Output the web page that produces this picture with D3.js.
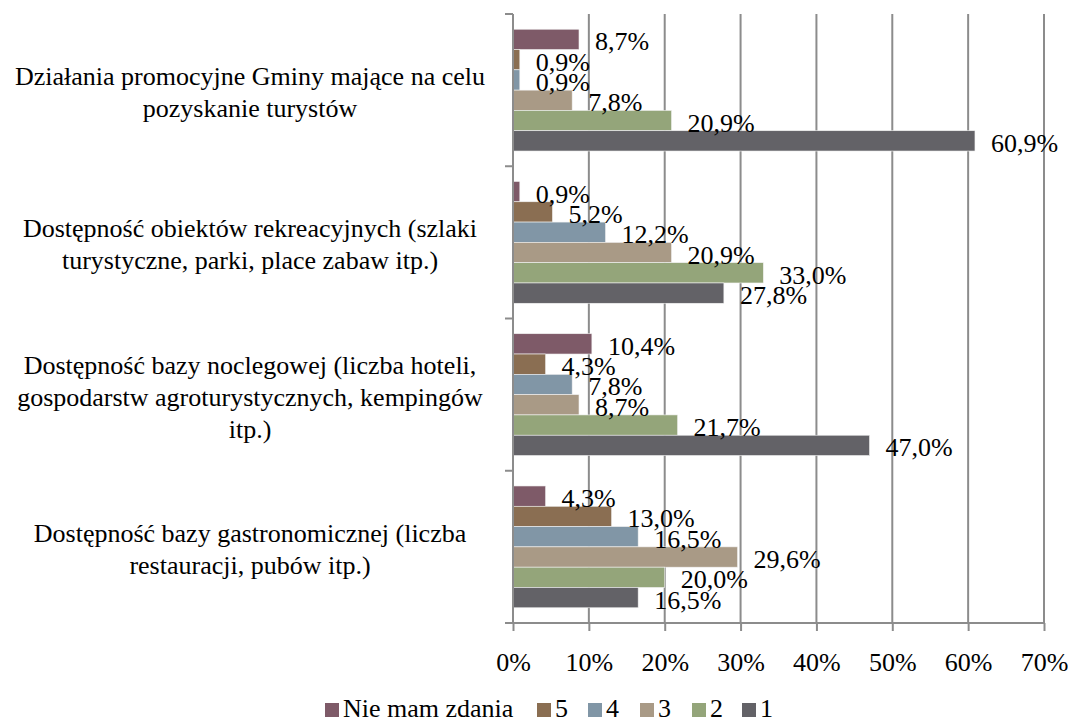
<!DOCTYPE html>
<html lang="pl">
<head>
<meta charset="utf-8">
<title>Ocena</title>
<script src="https://cdn.jsdelivr.net/npm/d3@7"></script>
<style>
  body { margin: 0; background: #fff; }
  svg text { font-family: 'Liberation Serif', 'Times New Roman', Times, serif; fill: #000; }
</style>
</head>
<body>
<script>
// categories (top to bottom), with line breaks as in the picture
var categories = [
  "Działania promocyjne Gminy mające na celu\npozyskanie turystów",
  "Dostępność obiektów rekreacyjnych (szlaki\nturystyczne, parki, place zabaw itp.)",
  "Dostępność bazy noclegowej (liczba hoteli,\ngospodarstw agroturystycznych, kempingów\nitp.)",
  "Dostępność bazy gastronomicznej (liczba\nrestauracji, pubów itp.)"
];
var seriesNames = ["Nie mam zdania", "5", "4", "3", "2", "1"];
var seriesColors = ["#7e5a68", "#8a6e52", "#8196a6", "#a99a86", "#94a57a", "#636267"];

// values per series, one per category
var nieMamZdania = [8.7, 0.9, 10.4, 4.3];
var ocena5 = [0.9, 5.2, 4.3, 13.0];
var ocena4 = [0.9, 12.2, 7.8, 16.5];
var ocena3 = [7.8, 20.9, 8.7, 29.6];
var ocena2 = [20.9, 33.0, 21.7, 20.0];
var ocena1 = [60.9, 27.8, 47.0, 16.5];
var allSeries = [nieMamZdania, ocena5, ocena4, ocena3, ocena2, ocena1];

var xTicks = [0, 10, 20, 30, 40, 50, 60, 70];

var W = 1068, H = 720;
var pLeft = 513, pRight = 1044, pTop = 14, pBottom = 623;
var fs = "26px";
var ff = "'Liberation Serif', 'Times New Roman', Times, serif";

var svg = d3.select("body").append("svg")
    .attr("width", W)
    .attr("height", H)
    .attr("font-family", ff);

var x = d3.scaleLinear().domain([0, 70]).range([pLeft, pRight]);
var y = d3.scaleBand().domain(categories).range([pTop, pBottom]).padding(0);
var yInner = d3.scaleBand().domain(seriesNames)
    .range([0, y.bandwidth()]).paddingInner(0).paddingOuter(0.75);

// gridlines
svg.append("g").selectAll("line")
   .data(xTicks.slice(1))
   .enter().append("line")
   .attr("x1", function(d) { return x(d); })
   .attr("x2", function(d) { return x(d); })
   .attr("y1", pTop)
   .attr("y2", pBottom)
   .attr("stroke", "#8c8c8c")
   .attr("stroke-width", 2);

// bars
var groups = svg.append("g").selectAll("g")
   .data(categories)
   .enter().append("g")
   .attr("transform", function(d) { return "translate(0," + y(d) + ")"; });

groups.each(function(cat, ci) {
  var g = d3.select(this);
  var rows = seriesNames.map(function(s, si) {
    return { name: s, value: allSeries[si][ci], color: seriesColors[si] };
  });
  g.selectAll("rect")
   .data(rows)
   .enter().append("rect")
   .attr("x", x(0))
   .attr("y", function(d) { return yInner(d.name); })
   .attr("width", function(d) { return x(d.value) - x(0); })
   .attr("height", yInner.bandwidth())
   .attr("fill", function(d) { return d.color; })
   .attr("stroke", "#f2f2f2")
   .attr("stroke-width", 0.6);

  g.selectAll("text")
   .data(rows)
   .enter().append("text")
   .attr("x", function(d) { return x(d.value) + 16; })
   .attr("y", function(d) { return yInner(d.name) + yInner.bandwidth() / 2 + 11; })
   .attr("font-size", fs)
   .text(function(d) { return d.value.toFixed(1).replace(".", ",") + "%"; });
});

// axes
var xAxis = d3.axisBottom(x)
    .tickValues(xTicks)
    .tickSize(8)
    .tickPadding(22)
    .tickFormat(function(d) { return d + "%"; });

var gx = svg.append("g")
   .attr("transform", "translate(0," + pBottom + ")")
   .call(xAxis)
   .attr("font-family", ff);
gx.select(".domain").attr("stroke", "#8c8c8c").attr("stroke-width", 2)
   .attr("d", "M" + pLeft + ",0H" + pRight);
gx.selectAll(".tick line").attr("stroke", "#8c8c8c").attr("stroke-width", 2);
gx.selectAll(".tick text")
   .attr("font-size", fs)
   .attr("fill", "#000");

// y axis line + boundary ticks
var gy = svg.append("g");
gy.append("line")
  .attr("x1", pLeft).attr("x2", pLeft)
  .attr("y1", pTop).attr("y2", pBottom)
  .attr("stroke", "#8c8c8c").attr("stroke-width", 2);
gy.selectAll(".bt")
  .data(categories.map(function(c) { return y(c); }).concat([pBottom]))
  .enter().append("line")
  .attr("class", "bt")
  .attr("x1", pLeft - 8).attr("x2", pLeft)
  .attr("y1", function(d) { return d; })
  .attr("y2", function(d) { return d; })
  .attr("stroke", "#8c8c8c").attr("stroke-width", 2);

// category labels
var lineH = 32;
svg.append("g").selectAll("text")
   .data(categories)
   .enter().append("text")
   .attr("text-anchor", "middle")
   .attr("font-size", fs)
   .each(function(d) {
     var lines = d.split("\n");
     var cy = y(d) + y.bandwidth() / 2;
     var t = d3.select(this);
     lines.forEach(function(l, i) {
       t.append("tspan")
        .attr("x", 250)
        .attr("y", cy + (i - (lines.length - 1) / 2) * lineH + 11)
        .text(l);
     });
   });

// legend
var legendX = [325, 537, 588, 640, 692, 742];
var leg = svg.append("g").selectAll("g")
   .data(seriesNames)
   .enter().append("g")
   .attr("transform", function(d, i) { return "translate(" + legendX[i] + ",703)"; });
leg.append("rect")
   .attr("width", 14).attr("height", 14)
   .attr("fill", function(d, i) { return seriesColors[i]; });
leg.append("text")
   .attr("x", 18)
   .attr("y", 14)
   .attr("font-size", fs)
   .text(function(d) { return d; });
</script>
</body>
</html>
